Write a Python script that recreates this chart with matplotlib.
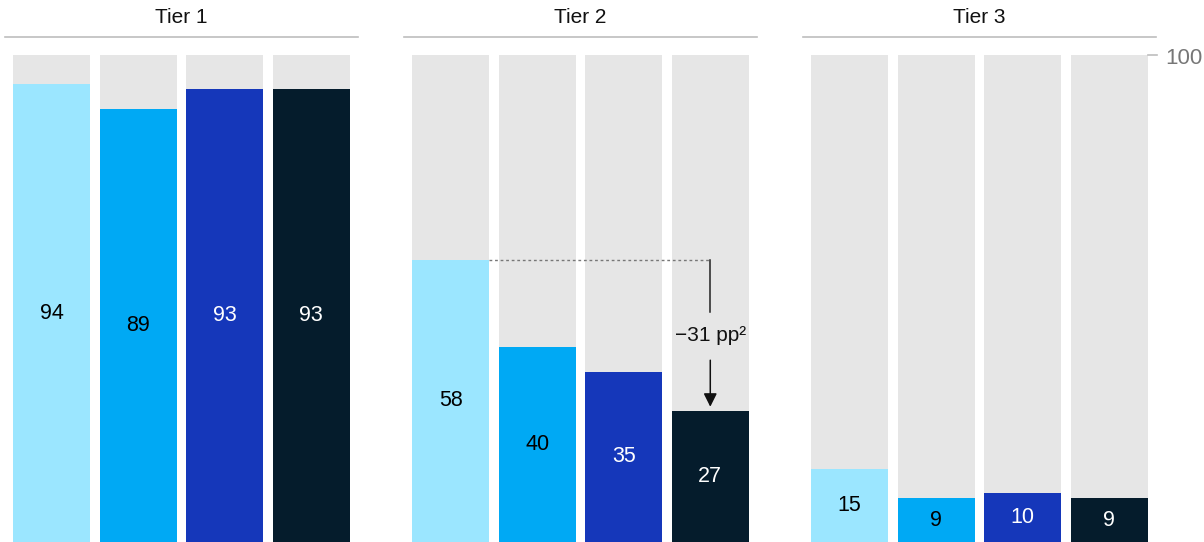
import matplotlib.pyplot as plt

plt.rcParams['font.family'] = ['Liberation Sans', 'DejaVu Sans']

# share of respondents per tier, four segments each
tiers = ["Tier 1", "Tier 2", "Tier 3"]
tier1 = [94, 89, 93, 93]
tier2 = [58, 40, 35, 27]
tier3 = [15, 9, 10, 9]
full = 100

bar_colors = ["#9BE6FF", "#00A9F4", "#1537BA", "#051C2C"]
text_colors = ["#000000", "#000000", "#FFFFFF", "#FFFFFF"]
grey = "#E6E6E6"

fig = plt.figure(figsize=(12.04, 5.42), dpi=100)

# pixel placement of the three panels
lefts = [5, 404, 803]
panel_w = 353

axes = []
for left, name, vals in zip(lefts, tiers, [tier1, tier2, tier3]):
    ax = fig.add_axes([left / 1204, 0, panel_w / 1204, 487 / 542])
    x = list(range(len(vals)))
    ax.bar(x, [full] * len(vals), width=0.89, color=grey, zorder=1)
    ax.bar(x, vals, width=0.89, color=bar_colors, zorder=2)
    for xi, v, tc in zip(x, vals, text_colors):
        ax.text(xi, v / 2, str(v), ha="center", va="center", color=tc,
                fontsize=15.5, zorder=3)
    ax.set_xlim(-0.54, 3.54)
    ax.set_ylim(0, 100)
    ax.axis("off")

    # header line and title
    trans = ax.get_yaxis_transform()
    ax.plot([0, 1], [103.7, 103.7], transform=trans, color="#BDBDBD",
            lw=1.2, clip_on=False)
    ax.text(0.5, 107.8, name, transform=trans, ha="center", va="center",
            fontsize=15, color="#111111")
    axes.append(ax)

# 100 marker on the right
ax3 = axes[2]
trans = ax3.get_yaxis_transform()
ax3.plot([0.977, 1.003], [full, full], transform=trans, color="#BDBDBD",
         lw=1.2, clip_on=False)
ax3.text(1.025, full - 0.3, str(full), transform=trans, ha="left",
         va="center_baseline", fontsize=16, color="#777777")

# difference annotation in Tier 2
ax2 = axes[1]
top = tier2[0]
bottom = tier2[3]
mid = (top + bottom) / 2
ax2.plot([0.445, 3], [top, top], color="#777777", lw=1,
         ls=(0, (2, 2)), zorder=4)
ax2.plot([3, 3], [top, mid + 4.8], color="#222222", lw=1.1, zorder=4)
ax2.text(3, mid, "\u2212%d pp\u00b2" % abs(bottom - top), ha="center",
         va="center", fontsize=15, color="#111111", zorder=4)
ax2.annotate("", xy=(3, bottom + 0.2), xytext=(3, mid - 4.6),
             arrowprops=dict(arrowstyle="-|>", color="#111111", lw=1.1,
                             mutation_scale=20), zorder=4)

fig.savefig("out.png", dpi=100)
